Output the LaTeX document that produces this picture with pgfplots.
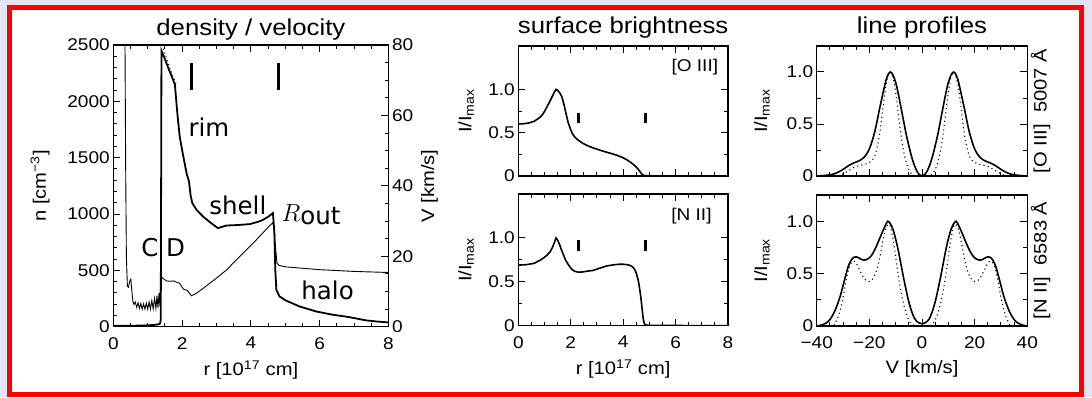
\documentclass[border=0pt]{standalone}
\usepackage{fontspec}
\setmainfont{Liberation Sans}[FakeStretch=1.12]
\newfontfamily\djv{DejaVu Sans}
\usepackage{pgfplots}
\pgfplotsset{compat=1.18}
\newcommand\tickf{\fontsize{17}{17}\selectfont}
\newcommand\labf{\fontsize{18}{18}\selectfont}
\newcommand\titf{\fontsize{23}{23}\selectfont}
\newcommand\annf{\djv\fontsize{24.5}{24.5}\selectfont}
\definecolor{bgl}{RGB}{228,228,244}
\definecolor{fred}{RGB}{255,0,0}
\pgfplotsset{
  myax/.style={
    scale only axis, anchor=south west,
    tick align=inside,
    major tick length=7pt, minor tick length=4pt,
    tick style={black, line width=1pt},
    axis line style={line width=1.5pt},
    ticklabel style={font=\tickf},
    xticklabel style={yshift=-7pt},
    label style={font=\labf},
    every axis title/.style={at={(0.5,1)}, anchor=base, yshift=#1, font=\titf},
    /pgf/number format/assume math mode=true,
  },
  xlab/.style={xlabel style={at={(axis description cs:0.5,0)}, anchor=center, yshift=-43pt}},
}
\begin{document}
\begin{tikzpicture}
\useasboundingbox (0,0) rectangle (1092pt,397pt);
\fill[bgl] (0,0) rectangle (1092pt,397pt);
\draw[fred, line width=5.5pt, fill=white] (9.3pt,2.75pt) rectangle (1081.5pt,389.5pt);

% ---------------- density (left axis) ----------------
\begin{axis}[myax=10pt,
  at={(113.3pt,70.3pt)}, width=275.2pt, height=281.7pt,
  xmin=0, xmax=8, ymin=0, ymax=2500,
  xtick={0,2,4,6,8}, xticklabels={0,2,4,6,8}, minor x tick num=3,
  ytick={0,500,1000,1500,2000,2500}, yticklabels={0,500,1000,1500,2000,2500}, minor y tick num=4,
  xtick pos=both, ytick pos=left,
  title={density / velocity},
  xlabel={r [10\textsuperscript{17} cm]}, xlab,
  ylabel={n [cm\textsuperscript{−3}]},
  ylabel style={at={(axis description cs:-0.266,0.5)}, anchor=center},
]
\addplot[black, line width=1.8pt] coordinates {
(0,8) (0.5,8) (1.0,12) (1.2,16) (1.32,22) (1.36,30) (1.38,60) (1.39,1200) (1.40,2450)
(1.5,2375) (1.6,2295) (1.7,2220) (1.79,2150) (1.86,1900) (1.93,1687) (2.03,1520) (2.13,1362)
(2.2,1290) (2.25,1160) (2.3,1095) (2.42,1037) (2.6,980) (2.8,930) (3.04,875) (3.15,885)
(3.29,898) (3.6,902) (3.96,910) (4.2,930) (4.35,948) (4.5,975) (4.64,1008) (4.68,850)
(4.71,500) (4.74,328) (4.83,269) (5.0,235) (5.41,180) (5.9,135) (6.38,106) (6.86,85)
(7.35,56) (7.7,45) (8.0,38)};
\addplot[black, line width=1pt, dash pattern=on 1pt off 3pt] coordinates {
(1.42,2500) (1.55,2380) (1.7,2250) (1.83,2150)};
\addplot[black, line width=3pt] coordinates {(2.27,2101) (2.27,2338)};
\addplot[black, line width=3pt] coordinates {(4.79,2101) (4.79,2338)};
\node[anchor=base, font=\annf] at (axis cs:2.78,1687) {rim};
\node[anchor=base, font=\annf] at (axis cs:3.62,993) {shell};
\node[anchor=base, font=\annf] at (axis cs:6.23,239) {halo};
\node[anchor=base, font=\annf] at (axis cs:1.45,623) {C D};
\node[anchor=base west, inner sep=0pt] at (axis cs:4.89,933) {\fontsize{27}{27}\selectfont$R$\raisebox{-3pt}{\annf out}};
\end{axis}

% ---------------- velocity (right axis) ----------------
\begin{axis}[myax=10pt,
  at={(113.3pt,70.3pt)}, width=275.2pt, height=281.7pt,
  xmin=0, xmax=8, ymin=0, ymax=80,
  axis x line=none, axis y line*=right,
  ytick={0,20,40,60,80}, yticklabels={0,20,40,60,80}, minor y tick num=3,
  ylabel={V [km/s]},
  ylabel style={at={(axis description cs:1.149,0.5)}, anchor=center, rotate=0},
]
\addplot[black, line width=0.9pt] coordinates {
(0.30,150) (0.34,80) (0.36,45) (0.38,20) (0.41,11.5) (0.44,11.2) (0.48,13) (0.51,13.5)
(0.54,10) (0.57,7.2) (0.6,6.3) (0.64,7.0) (0.68,5.5) (0.72,6.8) (0.76,5.2) (0.8,6.6)
(0.84,5.0) (0.88,6.5) (0.92,5.0) (0.96,6.7) (1.0,5.0) (1.04,7.0) (1.08,5.0) (1.12,7.4)
(1.16,5.1) (1.2,8.0) (1.24,5.2) (1.27,8.8) (1.3,5.4) (1.33,9.6) (1.355,6) (1.375,12)
(1.39,14.3) (1.43,13.8) (1.55,13.0) (1.64,12.9) (1.75,13.0) (1.85,12.6) (1.93,12.3)
(2.0,11.2) (2.05,10.6) (2.15,10.3) (2.27,8.8) (2.4,9.4) (2.6,10.8) (3.0,13.8) (3.3,16.2)
(3.58,19) (3.9,22.1) (4.16,24.7) (4.4,27.2) (4.64,29.6) (4.68,27) (4.72,22) (4.76,18)
(4.82,17.4) (5.0,17.0) (5.5,16.6) (6.0,16.2) (7.0,15.7) (8.0,15.4)};
\end{axis}

% ---------------- surface brightness [O III] ----------------
\begin{axis}[myax=12.5pt,
  at={(518.3pt,221pt)}, width=209.7pt, height=130pt,
  xmin=0, xmax=8, ymin=0, ymax=1.5,
  xtick={0,2,4,6,8}, xticklabels={}, minor x tick num=3,
  ytick={0,0.5,1}, yticklabels={0,0.5,1.0}, minor y tick num=1,
  xtick pos=both, ytick pos=both,
  title={surface brightness},
  ylabel={I/I\textsubscript{max}},
  ylabel style={at={(axis description cs:-0.249,0.5)}, anchor=center},
]
\addplot[black, line width=1.6pt] coordinates {
(0,0.60) (0.2,0.603) (0.4,0.612) (0.6,0.63) (0.8,0.67) (0.9,0.70) (1.0,0.745) (1.1,0.80)
(1.2,0.86) (1.3,0.92) (1.38,0.97) (1.44,1.0) (1.5,0.99) (1.58,0.96) (1.66,0.915) (1.74,0.83)
(1.82,0.72) (1.9,0.62) (1.98,0.55) (2.06,0.49) (2.14,0.455) (2.22,0.43) (2.3,0.41)
(2.45,0.38) (2.6,0.355) (2.8,0.33) (3.0,0.31) (3.2,0.29) (3.4,0.272) (3.6,0.255) (3.8,0.235)
(4.0,0.21) (4.15,0.185) (4.3,0.155) (4.42,0.125) (4.52,0.097) (4.6,0.067) (4.67,0.038)
(4.73,0.017) (4.8,0.006) (4.9,0.003) (5.5,0.001) (8,0)};
\addplot[black, line width=2.5pt] coordinates {(2.29,0.615) (2.29,0.723)};
\addplot[black, line width=2.5pt] coordinates {(4.86,0.615) (4.86,0.723)};
\node[anchor=base east, font=\tickf, inner sep=0pt] at (axis cs:7.63,1.203) {[O III]};
\end{axis}

% ---------------- surface brightness [N II] ----------------
\begin{axis}[myax=12.5pt,
  at={(518.3pt,71.3pt)}, width=209.7pt, height=131.7pt,
  xmin=0, xmax=8, ymin=0, ymax=1.5,
  xtick={0,2,4,6,8}, xticklabels={0,2,4,6,8}, minor x tick num=3,
  ytick={0,0.5,1}, yticklabels={0,0.5,1.0}, minor y tick num=1,
  xtick pos=both, ytick pos=both,
  xlabel={r [10\textsuperscript{17} cm]}, xlab,
  ylabel={I/I\textsubscript{max}},
  ylabel style={at={(axis description cs:-0.249,0.5)}, anchor=center},
]
\addplot[black, line width=1.6pt] coordinates {
(0,0.69) (0.3,0.695) (0.6,0.71) (0.83,0.745) (1.0,0.78) (1.1,0.805) (1.21,0.84) (1.3,0.89)
(1.38,0.95) (1.44,1.0) (1.5,0.975) (1.58,0.92) (1.65,0.86) (1.72,0.81) (1.8,0.75) (1.9,0.70)
(1.97,0.67) (2.05,0.64) (2.15,0.62) (2.29,0.61) (2.45,0.612) (2.6,0.62) (2.86,0.63)
(3.1,0.655) (3.37,0.68) (3.6,0.692) (3.85,0.7) (4.0,0.70) (4.15,0.695) (4.28,0.685)
(4.38,0.665) (4.46,0.63) (4.53,0.57) (4.58,0.51) (4.63,0.42) (4.68,0.31) (4.72,0.2)
(4.76,0.09) (4.8,0.03) (4.85,0.008) (5,0.003) (8,0)};
\addplot[black, line width=2.5pt] coordinates {(2.29,0.852) (2.29,0.974)};
\addplot[black, line width=2.5pt] coordinates {(4.86,0.852) (4.86,0.974)};
\node[anchor=base east, font=\tickf, inner sep=0pt] at (axis cs:7.38,1.193) {[N II]};
\end{axis}

% ---------------- line profiles [O III] ----------------
\begin{axis}[myax=12.5pt,
  at={(816.7pt,221pt)}, width=210.6pt, height=130pt,
  xmin=-40, xmax=40, ymin=0, ymax=1.25,
  xtick={-40,-20,0,20,40}, xticklabels={}, minor x tick num=3,
  ytick={0,0.5,1}, yticklabels={0,0.5,1.0}, minor y tick num=1,
  xtick pos=both, ytick pos=both,
  title={line profiles},
  ylabel={I/I\textsubscript{max}},
  ylabel style={at={(axis description cs:-0.26,0.5)}, anchor=center},
  extra description/.code={\node[rotate=90, font=\labf] at (1.063,0.5) {[O III]\ \ 5007 Å};},
]
\addplot[black, line width=1.6pt, smooth] coordinates {
(-40,0) (-38,0.003) (-36,0.008) (-34,0.016) (-32,0.035) (-30,0.063) (-28,0.098) (-26,0.125)
(-24,0.145) (-22,0.18) (-20,0.26) (-18,0.42) (-16,0.66) (-14,0.89) (-13,0.97) (-12,1.0)
(-11,0.97) (-10,0.9) (-9,0.79) (-8,0.66) (-7,0.53) (-6,0.4) (-5,0.29) (-4,0.19) (-3,0.11)
(-2,0.05) (-1,0.013) (0,0)
(1,0.013) (2,0.05) (3,0.11) (4,0.19) (5,0.29) (6,0.4) (7,0.53) (8,0.66) (9,0.79) (10,0.9)
(11,0.97) (12,1.0) (13,0.97) (14,0.89) (16,0.66) (18,0.42) (20,0.26) (22,0.18) (24,0.145)
(26,0.125) (28,0.098) (30,0.063) (32,0.035) (34,0.016) (36,0.008) (38,0.003) (40,0)};
\addplot[black, line width=1.1pt, dash pattern=on 1.1pt off 3.2pt, smooth] coordinates {
(-40,0) (-32,0) (-31,0.01) (-30,0.02) (-28,0.05) (-26,0.08) (-24,0.10) (-22,0.11) (-20,0.13)
(-19,0.15) (-18,0.19) (-17,0.28) (-16,0.42) (-15,0.62) (-14,0.82) (-13,0.95) (-12,1.0)
(-11,0.95) (-10,0.8) (-9,0.6) (-8,0.4) (-7,0.24) (-6,0.13) (-5,0.06) (-4,0.02) (-3,0.005)
(-2,0) (2,0)
(3,0.005) (4,0.02) (5,0.06) (6,0.13) (7,0.24) (8,0.4) (9,0.6) (10,0.8) (11,0.95) (12,1.0)
(13,0.95) (14,0.82) (15,0.62) (16,0.42) (17,0.28) (18,0.19) (19,0.15) (20,0.13) (22,0.11)
(24,0.10) (26,0.08) (28,0.05) (30,0.02) (31,0.01) (32,0) (40,0)};
\end{axis}

% ---------------- line profiles [N II] ----------------
\begin{axis}[myax=12.5pt,
  at={(816.7pt,71pt)}, width=210.6pt, height=131pt,
  xmin=-40, xmax=40, ymin=0, ymax=1.25,
  xtick={-40,-20,0,20,40}, xticklabels={−40,−20,0,20,40}, minor x tick num=3,
  ytick={0,0.5,1}, yticklabels={0,0.5,1.0}, minor y tick num=1,
  xtick pos=both, ytick pos=both,
  xlabel={V [km/s]}, xlab,
  ylabel={I/I\textsubscript{max}},
  ylabel style={at={(axis description cs:-0.26,0.5)}, anchor=center},
  extra description/.code={\node[rotate=90, font=\labf] at (1.063,0.5) {[N II]\ \ 6583 Å};},
]
\addplot[black, line width=1.6pt, smooth] coordinates {
(-40,0) (-38,0.01) (-36,0.035) (-35,0.06) (-34,0.1) (-33,0.15) (-32,0.215) (-31,0.29)
(-30,0.385) (-29,0.48) (-28,0.57) (-27,0.625) (-26,0.655) (-25,0.66) (-24,0.65) (-23,0.635)
(-22,0.628) (-21,0.635) (-20,0.65) (-19,0.68) (-18,0.725) (-17,0.78) (-16,0.84) (-15,0.9)
(-14,0.955) (-13,1.0) (-12,0.975) (-11,0.92) (-10,0.83) (-9,0.72) (-8,0.59) (-7,0.46)
(-6,0.34) (-5,0.23) (-4,0.145) (-3,0.08) (-2,0.045) (-1,0.028) (0,0.022)
(1,0.028) (2,0.045) (3,0.08) (4,0.145) (5,0.23) (6,0.34) (7,0.46) (8,0.59) (9,0.72)
(10,0.83) (11,0.92) (12,0.975) (13,1.0) (14,0.955) (15,0.9) (16,0.84) (17,0.78) (18,0.725)
(19,0.68) (20,0.65) (21,0.635) (22,0.628) (23,0.635) (24,0.65) (25,0.66) (26,0.655)
(27,0.625) (28,0.57) (29,0.48) (30,0.385) (31,0.29) (32,0.215) (33,0.15) (34,0.1) (35,0.06)
(36,0.035) (38,0.01) (40,0)};
\addplot[black, line width=1.1pt, dash pattern=on 1.1pt off 3.2pt, smooth] coordinates {
(-40,0) (-34,0) (-33,0.03) (-32,0.08) (-31,0.16) (-30,0.27) (-29,0.41) (-28,0.53) (-27,0.6)
(-26,0.62) (-25,0.6) (-24,0.55) (-23,0.5) (-22,0.455) (-21,0.43) (-20,0.425) (-19,0.44)
(-18,0.48) (-17,0.55) (-16,0.66) (-15,0.79) (-14,0.91) (-13,0.97) (-12,0.95) (-11,0.83)
(-10,0.66) (-9,0.48) (-8,0.33) (-7,0.21) (-6,0.12) (-5,0.055) (-4,0.02) (-3,0.005) (-2,0)
(2,0) (3,0.005) (4,0.02) (5,0.055) (6,0.12) (7,0.21) (8,0.33) (9,0.48) (10,0.66) (11,0.83)
(12,0.95) (13,0.97) (14,0.91) (15,0.79) (16,0.66) (17,0.55) (18,0.48) (19,0.44) (20,0.425)
(21,0.43) (22,0.455) (23,0.5) (24,0.55) (25,0.6) (26,0.62) (27,0.6) (28,0.53) (29,0.41)
(30,0.27) (31,0.16) (32,0.08) (33,0.03) (34,0) (40,0)};
\end{axis}
\end{tikzpicture}
\end{document}
